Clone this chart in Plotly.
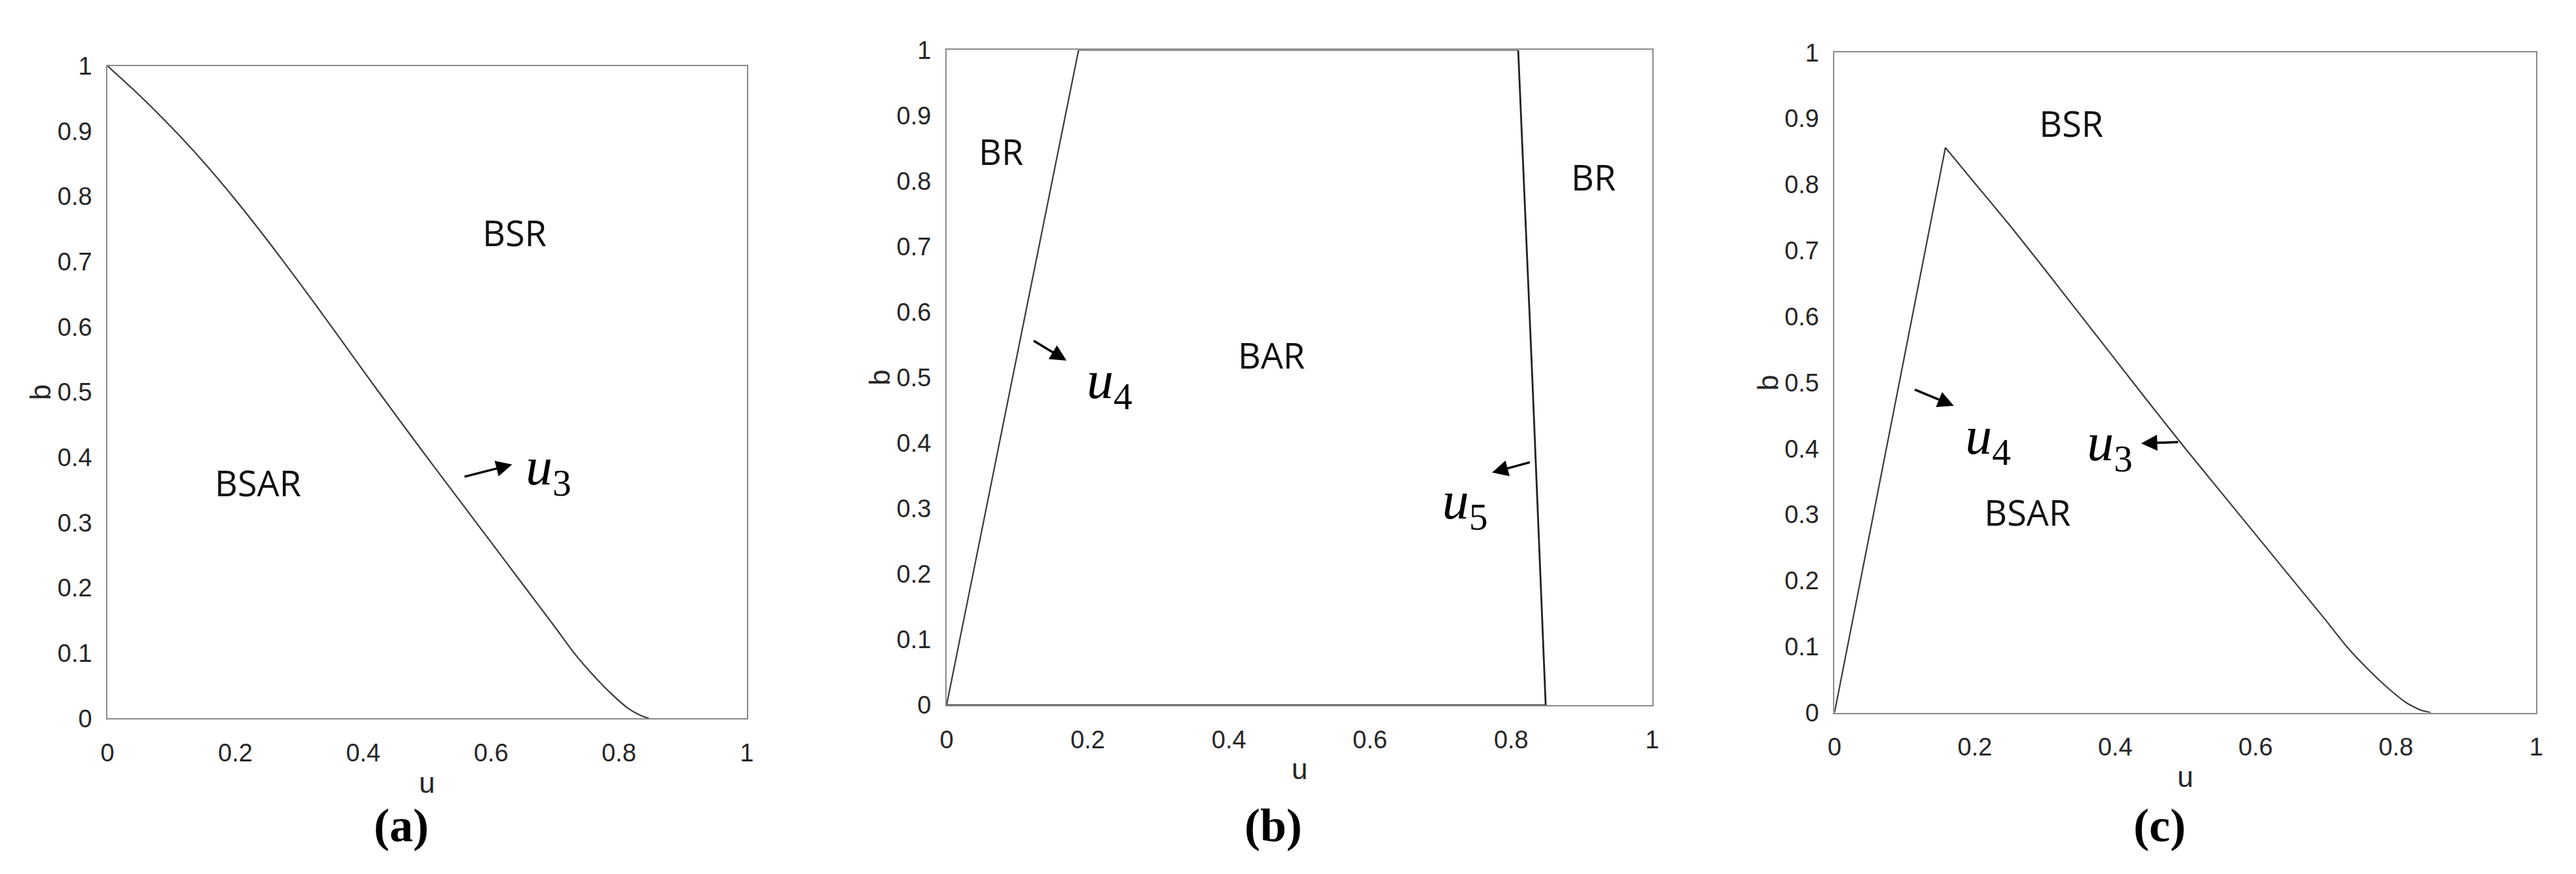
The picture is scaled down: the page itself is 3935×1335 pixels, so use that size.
import plotly.graph_objects as go

# ---------------- data ----------------
# panel (a): boundary u3
a_u3_u = [0.0, 0.05, 0.1, 0.15, 0.2, 0.25, 0.3, 0.35, 0.4, 0.45, 0.5, 0.55, 0.6, 0.65, 0.7, 0.73, 0.76, 0.79, 0.815, 0.835, 0.847]
a_u3_b = [1.0, 0.955, 0.906, 0.853, 0.795, 0.733, 0.668, 0.601, 0.533, 0.466, 0.4, 0.335, 0.27, 0.205, 0.14, 0.1, 0.066, 0.036, 0.015, 0.004, 0.0]

# panel (b): boundaries u4 and u5, plus segments along b=1 and b=0
b_u4_u = [0.0, 0.187]
b_u4_b = [0.0, 1.0]
b_u5_u = [0.81, 0.83, 0.849]
b_u5_b = [1.0, 0.5, 0.0]
b_top_u = [0.187, 0.81]
b_top_b = [1.0, 1.0]
b_bot_u = [0.0, 0.849]
b_bot_b = [0.0, 0.0]

# panel (c): u4 rising, u3 falling
c_u4_u = [0.0, 0.158]
c_u4_b = [0.0, 0.856]
c_u3_u = [0.158, 0.2, 0.25, 0.3, 0.35, 0.4, 0.45, 0.5, 0.55, 0.6, 0.65, 0.7, 0.73, 0.76, 0.79, 0.815, 0.835, 0.85]
c_u3_b = [0.856, 0.802, 0.738, 0.671, 0.603, 0.535, 0.467, 0.4, 0.335, 0.27, 0.205, 0.14, 0.1, 0.066, 0.036, 0.015, 0.004, 0.0]

x_ticks = [0, 0.2, 0.4, 0.6, 0.8, 1]
x_tick_labels = ["0", "0.2", "0.4", "0.6", "0.8", "1"]
y_ticks = [0, 0.1, 0.2, 0.3, 0.4, 0.5, 0.6, 0.7, 0.8, 0.9, 1]
y_tick_labels = ["0", "0.1", "0.2", "0.3", "0.4", "0.5", "0.6", "0.7", "0.8", "0.9", "1"]

panel_labels = ["(a)", "(b)", "(c)"]

# region labels: (panel, text, u, b)
region_labels = [
    (1, "BSR", 0.637, 0.745),
    (1, "BSAR", 0.235, 0.362),
    (2, "BR", 0.077, 0.846),
    (2, "BR", 0.917, 0.807),
    (2, "BAR", 0.46, 0.535),
    (3, "BSR", 0.337, 0.893),
    (3, "BSAR", 0.275, 0.304),
]
# curve name labels: (panel, index, u, b)
curve_labels = [
    (1, "3", 0.69, 0.381),
    (2, "4", 0.231, 0.491),
    (2, "5", 0.735, 0.307),
    (3, "4", 0.219, 0.414),
    (3, "3", 0.392, 0.404),
]
# arrows: (panel, tail_u, tail_b, head_u, head_b)
arrows = [
    (1, 0.557, 0.370, 0.633, 0.389),
    (2, 0.122, 0.557, 0.170, 0.526),
    (2, 0.828, 0.371, 0.773, 0.355),
    (3, 0.113, 0.490, 0.170, 0.465),
    (3, 0.491, 0.410, 0.437, 0.408),
]

# ---------------- layout geometry (pixels) ----------------
W, H = 3935, 1335
boxes = {  # left, right, top, bottom in pixels
    1: (146, 1128, 74, 1103),
    2: (1435, 2519, 49, 1082),
    3: (2799, 3877, 53, 1094),
}

LINE = "#3a3a3a"
fig = go.Figure()

def add_line(p, xs, ys, width=2.2, color=LINE, shape="linear"):
    ax = "" if p == 1 else str(p)
    fig.add_trace(go.Scatter(x=xs, y=ys, mode="lines", xaxis="x" + ax, yaxis="y" + ax,
                             line=dict(color=color, width=width, shape=shape, smoothing=0.6),
                             cliponaxis=False, showlegend=False, hoverinfo="skip"))

add_line(1, a_u3_u, a_u3_b, shape="spline")
add_line(2, b_u4_u, b_u4_b)
add_line(2, b_u5_u, b_u5_b, width=2.8, color="#222222")
add_line(2, b_top_u, b_top_b, color="#333333")
add_line(2, b_bot_u, b_bot_b, color="#444444")
add_line(3, c_u4_u, c_u4_b)
add_line(3, c_u3_u, c_u3_b, shape="spline")

tickfont = dict(family="Liberation Sans, Arial, sans-serif", size=38, color="#262626")
axis_common = dict(range=[0, 1], showgrid=False, zeroline=False, showline=True, mirror=True,
                   linecolor="#8a8a8a", linewidth=2, ticks="", tickfont=tickfont, fixedrange=True)

layout = dict(width=W, height=H, margin=dict(l=0, r=0, t=0, b=0),
              paper_bgcolor="white", plot_bgcolor="white", showlegend=False)
for p, (l, r, t, b) in boxes.items():
    s = "" if p == 1 else str(p)
    layout["xaxis" + s] = dict(axis_common, domain=[l / W, r / W], anchor="y" + s,
                               tickvals=x_ticks, ticktext=x_tick_labels, ticklabelstandoff=18)
    layout["yaxis" + s] = dict(axis_common, domain=[(H - b) / H, (H - t) / H], anchor="x" + s,
                               tickvals=y_ticks, ticktext=y_tick_labels, ticklabelstandoff=14)
fig.update_layout(**layout)

annotations = []
titlefont = dict(family="Liberation Sans, Arial, sans-serif", size=44, color="#262626")
for p, (l, r, t, b) in boxes.items():
    s = "" if p == 1 else str(p)
    annotations.append(dict(xref="x" + s + " domain", yref="y" + s + " domain", x=0.5, y=0,
                            xanchor="center", yanchor="middle",
                            yshift=-98, text="u", showarrow=False, font=titlefont))
    annotations.append(dict(xref="x" + s + " domain", yref="y" + s + " domain", x=0, y=0.5,
                            xanchor="center", yanchor="middle",
                            xshift=-102, text="b", textangle=-90, showarrow=False, font=titlefont))
    annotations.append(dict(xref="paper", yref="paper", x=((l + r) / 2 - 40) / W, y=(H - 1272) / H,
                            xanchor="center", yanchor="middle",
                            text="<b>" + panel_labels[p - 1] + "</b>", showarrow=False,
                            font=dict(family="Liberation Serif, Times New Roman, serif", size=72, color="black")))

for p, txt, u, bb in region_labels:
    s = "" if p == 1 else str(p)
    annotations.append(dict(xref="x" + s, yref="y" + s, x=u, y=bb, text=txt, showarrow=False,
                            xanchor="center", yanchor="middle",
                            font=dict(family="Open Sans, sans-serif", size=54, color="#111111")))

for p, idx, u, bb in curve_labels:
    s = "" if p == 1 else str(p)
    annotations.append(dict(xref="x" + s, yref="y" + s, x=u, y=bb,
                            xanchor="center", yanchor="middle",
                            text="<i>u</i><sub>" + idx + "</sub>", showarrow=False,
                            font=dict(family="Liberation Serif, Times New Roman, serif", size=82, color="black")))

for p, tu, tb, hu, hb in arrows:
    s = "" if p == 1 else str(p)
    annotations.append(dict(xref="x" + s, yref="y" + s, axref="x" + s, ayref="y" + s,
                            x=hu, y=hb, ax=tu, ay=tb, text="", showarrow=True,
                            arrowhead=2, arrowsize=1.4, arrowwidth=3.5, arrowcolor="black"))

fig.update_layout(annotations=annotations)
fig.write_html("out.html")
